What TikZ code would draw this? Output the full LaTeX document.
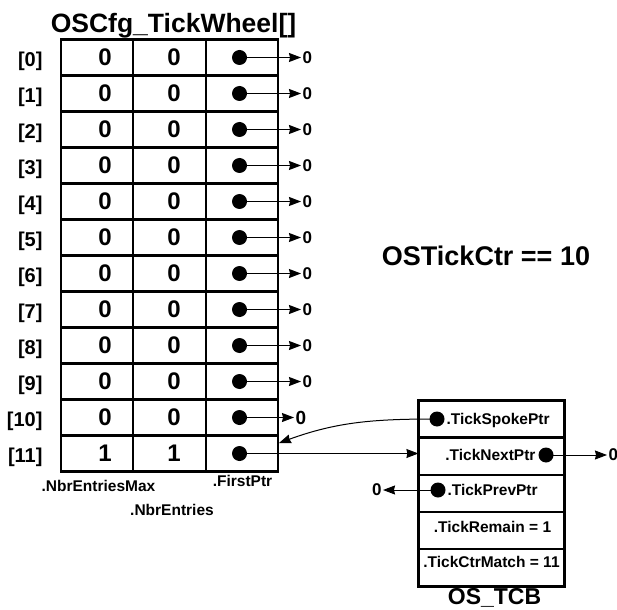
\documentclass[tikz,border=0pt]{standalone}
\usepackage{fontspec}
\setmainfont{Liberation Sans}
\usetikzlibrary{positioning, arrows.meta}

\tikzset{
  cell/.style={draw, line width=2.5pt, minimum height=36pt, inner sep=0pt},
  field/.style={draw, line width=1.2pt, minimum width=145pt, minimum height=36pt, inner sep=0pt},
  ptr/.style={circle, fill, inner sep=0pt, minimum size=15pt},
  nul/.style={font=\fontsize{17}{19}\selectfont\bfseries, inner sep=1pt},
  lbl/.style={font=\fontsize{15.5}{18}\selectfont\bfseries, inner sep=0pt},
  big/.style={font=\fontsize{26.5}{30}\selectfont\bfseries, inner sep=0pt}
}

\begin{document}
\begin{tikzpicture}[x=1pt, y=-1pt, font=\bfseries, line width=1pt,
    >={Stealth[length=12pt, width=9pt, inset=1pt]}]
  \useasboundingbox (0,0) rectangle (617,609);

  \node[big, anchor=base] (title) at (173.5,33) {OSCfg\_TickWheel[]};

  % tick wheel table
  \foreach \i in {0,...,11} {
    \pgfmathsetmacro{\yc}{57.5+36*\i}
    \pgfmathtruncatemacro{\n}{\i==11}
    \node[cell, minimum width=72pt] (max\i) at (97,\yc) {};
    \node[cell, minimum width=73pt] (cnt\i) at (169.5,\yc) {};
    \node[cell, minimum width=72pt] (fst\i) at (242,\yc) {};
    \node[font=\fontsize{20}{24}\selectfont\bfseries, anchor=east, inner sep=0pt] (idx\i) at (43,\yc+3.5) {[\i]};
    \node[font=\fontsize{24}{28}\selectfont\bfseries, inner sep=0pt] (maxval\i) at (105,\yc) {\n};
    \node[font=\fontsize{24}{28}\selectfont\bfseries, inner sep=0pt] (cntval\i) at (174,\yc) {\n};
    \node[ptr] (dot\i) at (239.5,\yc) {};
  }
  \foreach \i in {0,...,9} {
    \node[nul, anchor=west] (nul\i) at (301,57.5+36*\i) {0};
    \draw[->] (dot\i.center) -- (nul\i.west);
  }
  \node[nul, font=\fontsize{19}{21}\selectfont\bfseries, anchor=west] (nul10) at (294,417.5) {0};
  \draw[->] (dot10.center) -- (nul10.west);

  \node[lbl, anchor=base] (maxname) at (98.5,491) {.NbrEntriesMax};
  \node[lbl, anchor=base] (fstname) at (242.5,486) {.FirstPtr};
  \node[lbl, anchor=base] (cntname) at (172,515) {.NbrEntries};

  \node[big, font=\fontsize{27}{30}\selectfont\bfseries, anchor=base] (tickctr) at (486,265) {OSTickCtr == 10};

  % OS_TCB
  \node[field] (spoke) at (491.5,419) {};
  \node[field, below=0pt of spoke] (next) {};
  \node[field, below=0pt of next] (prev) {};
  \node[field, below=0pt of prev] (remain) {};
  \node[field, below=0pt of remain] (match) {};
  \draw[line width=2.5pt] (spoke.north west) rectangle (match.south east);

  \node[ptr] (spokedot) at (437,419) {};
  \node[lbl, anchor=base west] (spoketxt) at (446,424.5) {.TickSpokePtr};
  \node[ptr] (nextdot) at (546,455) {};
  \node[lbl, anchor=base east] (nexttxt) at (536,460.5) {.TickNextPtr};
  \node[nul, anchor=west] (nulnext) at (607,455) {0};
  \node[ptr] (prevdot) at (438,490) {};
  \node[lbl, anchor=base west] (prevtxt) at (447,495.5) {.TickPrevPtr};
  \node[nul, anchor=east] (nulprev) at (383,490) {0};
  \node[lbl] (remaintxt) at (492.5,526.5) {.TickRemain = 1};
  \node[lbl] (matchtxt) at (491.5,562) {.TickCtrMatch = 11};
  \node[big, font=\fontsize{23}{26}\selectfont\bfseries, anchor=base] (tcbname) at (494.5,604) {OS\_TCB};

  \coordinate (hook) at (279,443);
  \draw[->] (dot11.center) -- (dot11.center -| next.west);
  \draw[->] (spokedot.center) to[out=180, in=20] (hook);
  \draw[->] (nextdot.center) -- (nulnext.west);
  \draw[->] (prevdot.center) -- (nulprev.east);
\end{tikzpicture}
\end{document}
